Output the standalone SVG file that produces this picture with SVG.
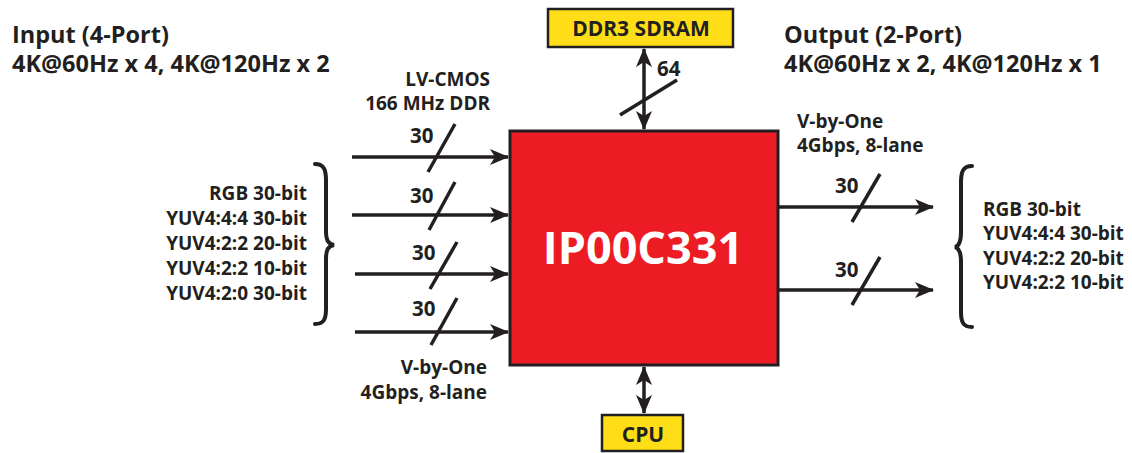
<svg xmlns="http://www.w3.org/2000/svg" width="1132" height="453" viewBox="0 0 1132 453">
<style>
  text { font-family: "Open Sans", "Liberation Sans", sans-serif; font-weight: 700; fill: #231F20; }
  .title { font-size: 23.5px; }
  .lbl { font-size: 19px; }
  .num { font-size: 20.5px; }
  .chip { fill: #ED1C24; stroke: #231F20; stroke-width: 3; }
  .ybox { fill: #FFDE17; stroke: #231F20; stroke-width: 2.5; }
  .wire { stroke: #231F20; stroke-width: 3.5; fill: none; }
  .slash { stroke: #231F20; stroke-width: 3.5; }
  .brace { stroke: #231F20; stroke-width: 4; fill: none; stroke-linecap: round; }
</style>
<defs>
  <marker id="ah" markerUnits="userSpaceOnUse" markerWidth="20" markerHeight="16" refX="18" refY="8" orient="auto-start-reverse">
    <path d="M0,0 L19,8 L0,16 L5,8 z" fill="#231F20"/>
  </marker>
</defs>

<g id="titles">
  <text class="title" x="12" y="43">Input (4-Port)</text>
  <text class="title" x="12" y="72">4K@60Hz x 4, 4K@120Hz x 2</text>
  <text class="title" x="784" y="43">Output (2-Port)</text>
  <text class="title" x="784" y="72">4K@60Hz x 2, 4K@120Hz x 1</text>
</g>

<g id="chip">
  <rect class="chip" x="510" y="131" width="268" height="234"/>
  <text x="643" y="264" text-anchor="middle" style="font-size:45px;fill:#FFFFFF">IP00C331</text>
</g>

<g id="ddr3">
  <rect class="ybox" x="548" y="9" width="185" height="38"/>
  <text x="641" y="36" text-anchor="middle" style="font-size:21px">DDR3 SDRAM</text>
</g>

<g id="cpu">
  <rect class="ybox" x="602" y="415" width="81" height="36"/>
  <text x="643" y="442" text-anchor="middle" style="font-size:21px">CPU</text>
</g>

<g id="input-labels">
  <text class="lbl" x="490" y="86" text-anchor="end">LV-CMOS</text>
  <text class="lbl" x="490" y="110" text-anchor="end">166 MHz DDR</text>
  <text class="lbl" x="307" y="200" text-anchor="end">RGB 30-bit</text>
  <text class="lbl" x="307" y="225" text-anchor="end">YUV4:4:4 30-bit</text>
  <text class="lbl" x="307" y="250" text-anchor="end">YUV4:2:2 20-bit</text>
  <text class="lbl" x="307" y="275" text-anchor="end">YUV4:2:2 10-bit</text>
  <text class="lbl" x="307" y="300" text-anchor="end">YUV4:2:0 30-bit</text>
  <text class="lbl" x="487" y="374" text-anchor="end">V-by-One</text>
  <text class="lbl" x="487" y="399" text-anchor="end">4Gbps, 8-lane</text>
  <path class="brace" d="M315,164 C324,164 326,170 326,180 L326,231 C326,240 328,244 334,245 C328,246 326,250 326,259 L326,309 C326,319 324,324 315,324"/>
</g>

<g id="output-labels">
  <text class="lbl" x="797" y="128">V-by-One</text>
  <text class="lbl" x="797" y="152">4Gbps, 8-lane</text>
  <text class="lbl" x="983" y="216">RGB 30-bit</text>
  <text class="lbl" x="983" y="240">YUV4:4:4 30-bit</text>
  <text class="lbl" x="983" y="265">YUV4:2:2 20-bit</text>
  <text class="lbl" x="983" y="289">YUV4:2:2 10-bit</text>
  <path class="brace" d="M972,166 C963,166 961,172 961,182 L961,232 C961,241 959,246 955,247 C959,248 961,253 961,262 L961,312 C961,322 963,327 972,327"/>
</g>

<g id="connectors">
  <line class="wire" x1="352" y1="157" x2="508" y2="157" marker-end="url(#ah)"/>
  <line class="wire" x1="352" y1="215" x2="508" y2="215" marker-end="url(#ah)"/>
  <line class="wire" x1="355" y1="274" x2="508" y2="274" marker-end="url(#ah)"/>
  <line class="wire" x1="355" y1="332" x2="508" y2="332" marker-end="url(#ah)"/>
  <line class="wire" x1="779" y1="207" x2="933" y2="207" marker-end="url(#ah)"/>
  <line class="wire" x1="779" y1="290" x2="933" y2="290" marker-end="url(#ah)"/>
  <line class="wire" x1="644" y1="49" x2="644" y2="129" marker-start="url(#ah)" marker-end="url(#ah)"/>
  <line class="wire" x1="644" y1="367" x2="644" y2="413" marker-start="url(#ah)" marker-end="url(#ah)"/>

  <line class="slash" x1="428" y1="172" x2="455" y2="124"/>
  <line class="slash" x1="429" y1="230" x2="455" y2="182"/>
  <line class="slash" x1="430" y1="289" x2="457" y2="242"/>
  <line class="slash" x1="431" y1="345" x2="457" y2="298"/>
  <line class="slash" x1="852" y1="222" x2="880" y2="174"/>
  <line class="slash" x1="852" y1="305" x2="880" y2="257"/>
  <line class="slash" x1="620" y1="115" x2="677" y2="80"/>

  <text class="num" x="410" y="143">30</text>
  <text class="num" x="410" y="203">30</text>
  <text class="num" x="412" y="260">30</text>
  <text class="num" x="412" y="316">30</text>
  <text class="num" x="835" y="193">30</text>
  <text class="num" x="835" y="277">30</text>
  <text class="num" x="657" y="76">64</text>
</g>
</svg>
